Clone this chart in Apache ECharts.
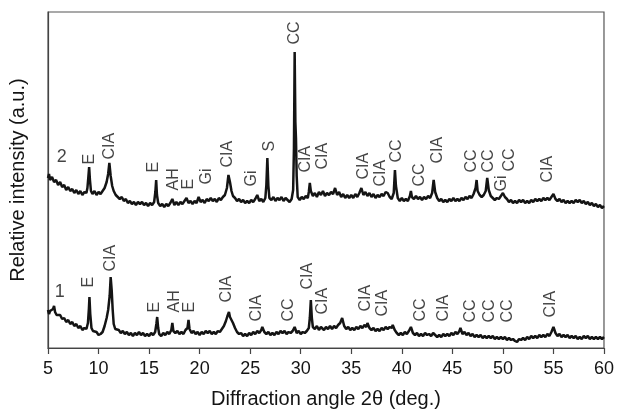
<!DOCTYPE html>
<html>
<head>
<meta charset="utf-8">
<script src="https://cdn.jsdelivr.net/npm/echarts@6/dist/echarts.min.js"></script>
<style>
  html, body { margin: 0; padding: 0; background: #fff; }
  #chart { width: 617px; height: 414px; }
</style>
</head>
<body>
<div id="chart"></div>
<script>
// XRD patterns: [2θ (deg), relative intensity]
const pattern2 = [
  [5.0,170],[5.1,174],[5.2,168],[5.4,171],[5.6,166],[5.8,168],[6.0,163],[6.2,166],[6.4,161],[6.6,163],
  [6.8,158],[7.0,161],[7.2,157],[7.4,159],[7.6,155],[7.8,158],[8.0,154],[8.2,157],[8.4,153],[8.6,156],
  [8.8,155],[8.9,160],[9.0,172],[9.07,181],[9.15,168],[9.25,157],[9.4,154],[9.6,157],[9.8,153],[10.0,156],
  [10.2,154],[10.4,157],[10.6,160],[10.8,166],[10.95,174],[11.07,185],[11.2,172],[11.35,162],[11.5,157],[11.7,153],
  [11.9,151],[12.1,149],[12.3,151],[12.5,147],[12.7,149],[12.9,145],[13.1,147],[13.3,144],[13.5,146],[13.7,143],
  [13.9,146],[14.1,144],[14.3,146],[14.5,143],[14.7,145],[14.9,142],[15.1,145],[15.3,143],[15.5,146],[15.62,156],
  [15.7,168],[15.78,153],[15.9,145],[16.1,142],[16.3,144],[16.5,141],[16.7,144],[16.9,142],[17.1,145],[17.3,149],
  [17.5,143],[17.7,146],[17.9,143],[18.1,146],[18.3,144],[18.5,147],[18.7,150],[18.9,145],[19.1,147],[19.3,144],
  [19.5,147],[19.7,145],[19.9,151],[20.1,146],[20.3,148],[20.5,145],[20.7,149],[20.9,147],[21.1,150],[21.3,147],
  [21.5,149],[21.7,146],[21.9,150],[22.1,148],[22.3,151],[22.5,153],[22.7,160],[22.85,173],[23.0,166],[23.15,157],
  [23.3,152],[23.5,150],[23.7,147],[23.9,149],[24.1,146],[24.3,148],[24.5,145],[24.7,147],[24.9,145],[25.1,148],
  [25.3,146],[25.5,149],[25.7,153],[25.9,147],[26.1,149],[26.3,146],[26.5,150],[26.6,163],[26.7,190],[26.8,162],
  [26.9,150],[27.1,148],[27.3,151],[27.5,147],[27.7,150],[27.9,148],[28.1,151],[28.3,147],[28.5,150],[28.7,148],
  [28.9,146],[29.1,149],[29.25,158],[29.33,200],[29.4,296],[29.47,226],[29.53,210],[29.6,172],[29.7,151],[29.9,148],
  [30.1,151],[30.3,149],[30.5,152],[30.7,150],[30.8,156],[30.9,165],[31.0,157],[31.2,152],[31.4,155],[31.6,151],
  [31.8,156],[32.0,153],[32.2,157],[32.4,152],[32.6,155],[32.8,153],[33.0,156],[33.2,154],[33.4,160],[33.6,153],
  [33.8,156],[34.0,151],[34.2,154],[34.4,150],[34.6,153],[34.8,150],[35.0,153],[35.2,150],[35.4,154],[35.6,151],
  [35.8,155],[36.0,160],[36.2,153],[36.4,156],[36.6,152],[36.8,155],[37.0,151],[37.2,154],[37.4,150],[37.6,153],
  [37.8,151],[38.0,154],[38.2,152],[38.4,156],[38.6,155],[38.8,151],[39.0,149],[39.2,155],[39.32,178],[39.42,162],
  [39.6,150],[39.8,147],[40.0,150],[40.2,147],[40.4,149],[40.6,147],[40.8,152],[40.9,157],[41.0,151],[41.2,149],
  [41.4,152],[41.6,149],[41.8,151],[42.0,148],[42.2,151],[42.4,149],[42.6,152],[42.8,150],[43.0,155],[43.15,168],
  [43.3,156],[43.5,150],[43.7,147],[43.9,149],[44.1,146],[44.3,148],[44.5,146],[44.7,149],[44.9,147],[45.1,150],
  [45.3,147],[45.5,149],[45.7,147],[45.9,150],[46.1,148],[46.3,151],[46.5,149],[46.7,152],[46.9,150],[47.1,154],
  [47.3,160],[47.4,168],[47.5,157],[47.7,153],[47.9,151],[48.1,153],[48.3,157],[48.45,170],[48.6,158],[48.8,152],
  [49.0,150],[49.2,148],[49.4,150],[49.6,149],[49.8,152],[50.0,155],[50.2,151],[50.4,149],[50.6,146],[50.8,148],
  [51.0,145],[51.2,147],[51.4,145],[51.6,148],[51.8,146],[52.0,148],[52.2,145],[52.4,147],[52.6,145],[52.8,148],
  [53.0,146],[53.2,149],[53.4,147],[53.6,149],[53.8,147],[54.0,150],[54.2,148],[54.4,150],[54.6,148],[54.8,151],
  [55.0,154],[55.2,149],[55.4,147],[55.6,149],[55.8,146],[56.0,148],[56.2,145],[56.4,147],[56.6,145],[56.8,147],
  [57.0,145],[57.2,148],[57.4,146],[57.6,148],[57.8,145],[58.0,147],[58.2,144],[58.4,146],[58.6,143],[58.8,145],
  [59.0,142],[59.2,144],[59.4,141],[59.6,143],[59.8,140],[60.0,142]
];

const pattern1 = [
  [5.0,38],[5.1,34],[5.2,37],[5.35,35],[5.5,39],[5.6,42],[5.7,36],[5.85,33],[6.0,31],[6.2,33],
  [6.4,29],[6.6,30],[6.8,26],[7.0,28],[7.2,24],[7.4,26],[7.6,22],[7.8,24],[8.0,20],[8.2,22],
  [8.4,18],[8.6,20],[8.8,19],[8.95,25],[9.05,40],[9.1,51],[9.18,34],[9.3,20],[9.45,17],[9.6,15],
  [9.8,16],[10.0,13],[10.2,14],[10.4,16],[10.6,22],[10.8,30],[10.95,38],[11.1,52],[11.2,71],[11.3,58],
  [11.4,38],[11.5,24],[11.65,19],[11.8,17],[12.0,18],[12.2,15],[12.4,17],[12.6,14],[12.8,16],[13.0,13],
  [13.2,15],[13.4,12],[13.6,15],[13.8,13],[14.0,16],[14.2,13],[14.4,15],[14.6,12],[14.8,14],[15.0,12],
  [15.2,15],[15.4,13],[15.6,16],[15.72,24],[15.8,31],[15.9,20],[16.0,14],[16.2,12],[16.4,15],[16.6,13],
  [16.8,16],[17.0,14],[17.2,18],[17.3,25],[17.4,17],[17.6,15],[17.8,17],[18.0,14],[18.2,16],[18.4,14],
  [18.6,18],[18.8,20],[18.9,28],[19.0,19],[19.2,15],[19.4,17],[19.6,14],[19.8,16],[20.0,13],[20.2,16],
  [20.4,14],[20.6,17],[20.8,15],[21.0,17],[21.2,14],[21.4,16],[21.6,14],[21.8,17],[22.0,16],[22.2,19],
  [22.4,22],[22.6,27],[22.75,32],[22.9,36],[23.0,31],[23.1,33],[23.3,25],[23.5,20],[23.7,16],[23.9,14],
  [24.1,15],[24.3,12],[24.5,14],[24.7,12],[24.9,15],[25.1,13],[25.3,16],[25.5,14],[25.7,17],[25.9,15],
  [26.1,18],[26.2,21],[26.4,16],[26.6,14],[26.8,16],[27.0,13],[27.2,15],[27.4,13],[27.6,16],[27.8,14],
  [28.0,17],[28.2,15],[28.4,17],[28.6,14],[28.8,16],[29.0,15],[29.2,17],[29.4,21],[29.6,15],[29.8,17],
  [30.0,14],[30.2,16],[30.4,15],[30.6,17],[30.8,20],[30.9,30],[31.0,48],[31.1,30],[31.2,21],[31.4,19],
  [31.6,22],[31.8,18],[32.0,21],[32.1,23],[32.3,18],[32.5,21],[32.7,19],[32.9,22],[33.1,19],[33.3,22],
  [33.5,20],[33.7,23],[33.9,25],[34.1,30],[34.3,22],[34.5,19],[34.7,21],[34.9,18],[35.1,20],[35.3,18],
  [35.5,21],[35.7,19],[35.9,22],[36.1,20],[36.3,23],[36.5,21],[36.6,25],[36.8,20],[37.0,18],[37.2,20],
  [37.4,17],[37.6,19],[37.8,17],[38.0,20],[38.2,18],[38.4,21],[38.6,19],[38.8,21],[39.0,20],[39.1,23],
  [39.3,18],[39.5,15],[39.7,13],[39.9,15],[40.1,13],[40.3,16],[40.5,14],[40.7,17],[40.9,21],[41.1,15],
  [41.3,13],[41.5,15],[41.7,12],[41.9,14],[42.1,12],[42.3,15],[42.5,13],[42.7,14],[42.9,12],[43.1,15],
  [43.3,13],[43.5,11],[43.7,13],[43.9,11],[44.1,14],[44.3,12],[44.5,14],[44.7,12],[44.9,15],[45.1,13],
  [45.3,16],[45.5,14],[45.7,17],[45.8,20],[46.0,14],[46.2,16],[46.4,13],[46.6,15],[46.8,12],[47.0,14],
  [47.2,11],[47.4,13],[47.6,11],[47.8,13],[48.0,10],[48.2,12],[48.4,10],[48.6,12],[48.8,10],[49.0,12],
  [49.2,9],[49.4,11],[49.6,9],[49.8,11],[50.0,9],[50.2,11],[50.4,8],[50.6,10],[50.8,8],[51.0,9],
  [51.2,7],[51.4,6],[51.6,9],[51.8,8],[52.0,10],[52.2,8],[52.4,11],[52.6,9],[52.8,12],[53.0,10],
  [53.2,12],[53.4,10],[53.6,13],[53.8,11],[54.0,13],[54.2,11],[54.4,14],[54.6,12],[54.8,16],[55.0,21],
  [55.2,15],[55.4,12],[55.6,14],[55.8,11],[56.0,13],[56.2,11],[56.4,13],[56.6,10],[56.8,12],[57.0,10],
  [57.2,12],[57.4,9],[57.6,11],[57.8,9],[58.0,12],[58.2,10],[58.4,12],[58.6,9],[58.8,11],[59.0,9],
  [59.2,11],[59.4,9],[59.6,11],[59.8,9],[60.0,11]
];

// Phase identifications: [2θ, label base height, phase]
const phases2 = [
  [9.13,183,'E'],[11.1,188,'CIA'],[15.53,175,'E'],[17.5,157,'AH'],[18.98,158,'E'],[20.75,163,'Gi'],
  [22.8,180,'CIA'],[25.2,161,'Gi'],[26.95,196,'S'],[29.4,303,'CC'],[30.5,175,'CIA'],[32.26,178,'CIA'],
  [36.3,168,'CIA'],[37.97,161,'CIA'],[39.55,185,'CC'],[41.8,161,'CC'],[43.58,184,'CIA'],[47.0,175,'CC'],
  [48.6,175,'CC'],[49.88,156,'Gi'],[50.76,176,'CC'],[54.5,165,'CIA']
];
const phases1 = [
  [9.04,60,'E'],[11.2,76,'CIA'],[15.63,35,'E'],[17.6,35,'AH'],[19.07,35,'E'],[22.7,45,'CIA'],
  [25.67,26,'CIA'],[28.82,26,'CC'],[30.69,58,'CIA'],[32.26,33,'CIA'],[36.5,36,'CIA'],[38.17,31,'CIA'],
  [41.9,26,'CC'],[44.17,26,'CIA'],[46.83,25,'CC'],[48.7,25,'CC'],[50.47,25,'CC'],[54.8,30,'CIA']
];
// Sample numbers beside each pattern
const sampleTags = [[6.4,190,'2'],[6.2,55,'1']];

const xTicks = { min: 5, max: 60, interval: 5 };
const FONT = '"Liberation Sans", Arial, sans-serif';
const INK = '#141414';

function phaseSeries(items) {
  return {
    type: 'scatter',
    data: items.map(p => ({ value: [p[0], p[1]], name: p[2] })),
    symbol: 'circle',
    symbolSize: 1,
    itemStyle: { color: 'rgba(0,0,0,0)' },
    silent: true,
    z: 5,
    label: {
      show: true,
      position: [0, 0],
      rotate: 90,
      align: 'left',
      verticalAlign: 'middle',
      formatter: p => p.name,
      fontFamily: FONT,
      fontSize: 16,
      color: INK
    }
  };
}

const chart = echarts.init(document.getElementById('chart'), null, { renderer: 'canvas' });
chart.setOption({
  animation: false,
  backgroundColor: '#fff',
  grid: { left: 45, right: 13, top: 12, bottom: 66, show: true, borderColor: '#555', borderWidth: 1.2, backgroundColor: 'transparent' },
  xAxis: {
    type: 'value',
    min: xTicks.min, max: xTicks.max, interval: xTicks.interval,
    name: 'Diffraction angle 2θ (deg.)',
    nameLocation: 'middle',
    nameGap: 41,
    nameTextStyle: { fontFamily: FONT, fontSize: 20, color: INK },
    axisLine: { lineStyle: { color: '#444', width: 1.2 } },
    axisTick: { show: true, inside: false, length: 6, lineStyle: { color: '#444', width: 1.2 } },
    axisLabel: { fontFamily: FONT, fontSize: 18, color: INK, margin: 12 },
    splitLine: { show: false }
  },
  yAxis: {
    type: 'value',
    min: 0, max: 336,
    name: 'Relative intensity (a.u.)',
    nameLocation: 'middle',
    nameGap: 20,
    nameTextStyle: { fontFamily: FONT, fontSize: 20, color: INK },
    axisLine: { show: true, lineStyle: { color: '#444', width: 1.2 } },
    axisTick: { show: false },
    axisLabel: { show: false },
    splitLine: { show: false }
  },
  series: [
    {
      type: 'line', data: pattern2, showSymbol: false, symbol: 'none',
      lineStyle: { color: INK, width: 2.5 }, z: 3
    },
    {
      type: 'line', data: pattern1, showSymbol: false, symbol: 'none',
      lineStyle: { color: INK, width: 2.5 }, z: 3
    },
    phaseSeries(phases2),
    phaseSeries(phases1),
    {
      type: 'scatter',
      data: sampleTags.map(p => ({ value: [p[0], p[1]], name: p[2] })),
      symbolSize: 1,
      itemStyle: { color: 'rgba(0,0,0,0)' },
      silent: true,
      label: {
        show: true, position: [0, 0], align: 'center', verticalAlign: 'middle',
        formatter: p => p.name, fontFamily: FONT, fontSize: 18, color: INK
      }
    }
  ]
});
</script>
</body>
</html>
